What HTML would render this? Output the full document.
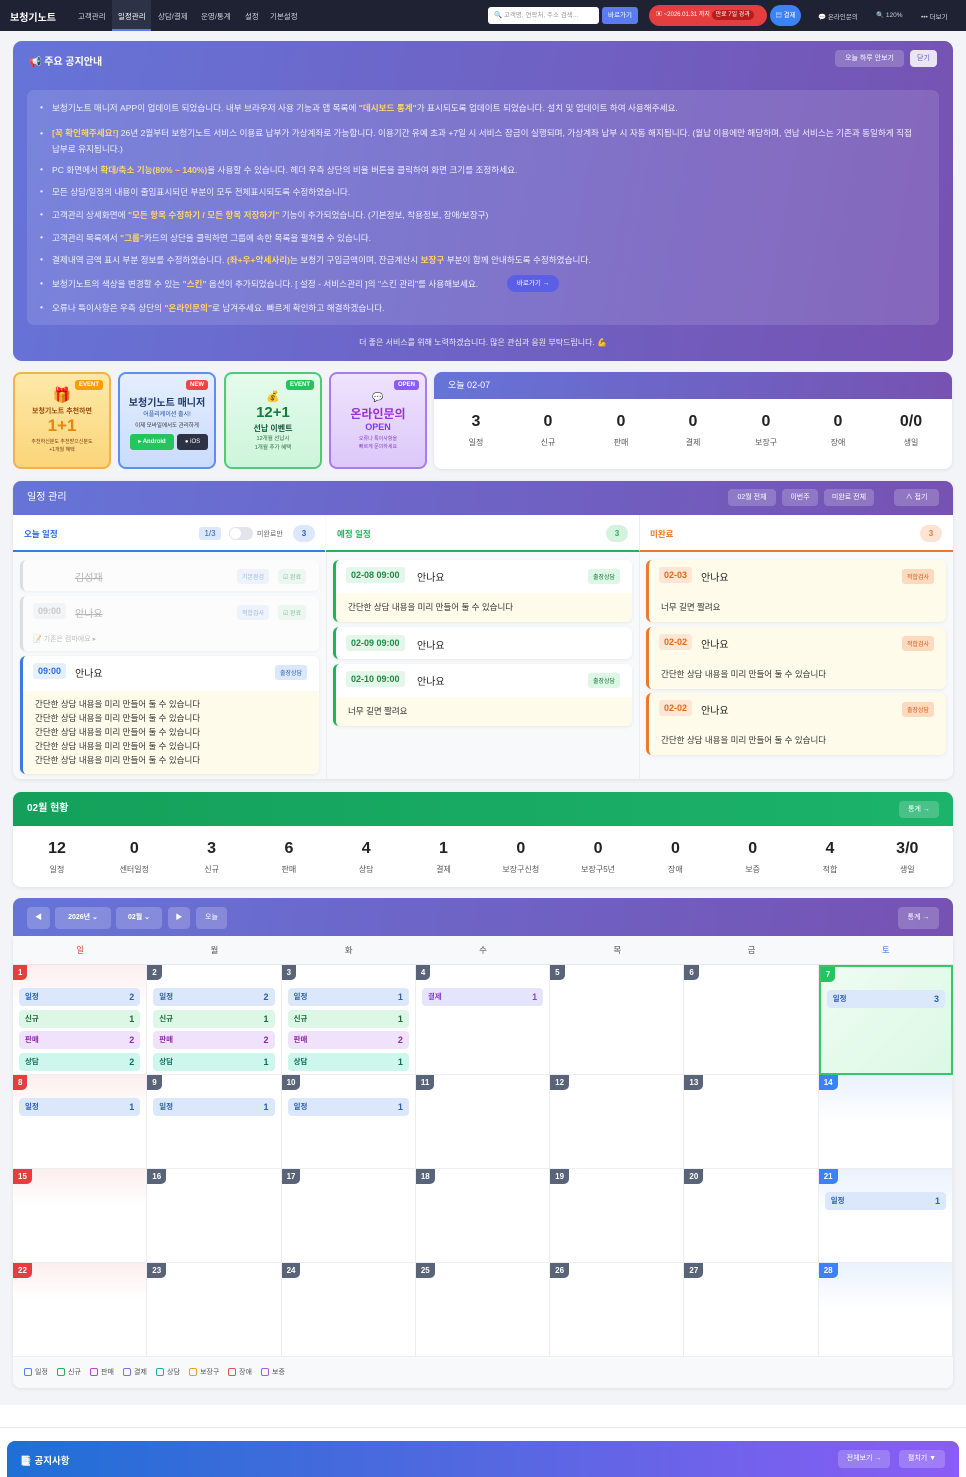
<!DOCTYPE html>
<html><head><meta charset="utf-8"><style>
*{box-sizing:border-box;margin:0;padding:0}
body{width:966px;height:1477px;background:#f3f4f8;font-family:"Liberation Sans","Noto Sans CJK KR",sans-serif;color:#333;position:relative;overflow:hidden;font-size:9px}
.abs{position:absolute}
.nav{left:0;top:0;width:966px;height:31px;background:#1f2233;color:#cfd2dc}
.nav>span{position:absolute;top:11px;font-size:7.5px;white-space:nowrap}
.card{background:#fff;border-radius:8px;box-shadow:0 1px 4px rgba(0,0,0,.08)}
.grad{background:linear-gradient(100deg,#6674d8,#7652b2)}
.btn{position:absolute;background:rgba(255,255,255,.2);color:#fff;border-radius:4px;font-size:7px;text-align:center;line-height:17px;height:17px;white-space:nowrap}
.nl{position:absolute;left:52px;color:#f0f0ff;font-size:8.6px}
.nl b{color:#ffd36a}
.nl:before{content:"•";position:absolute;left:-12px}
.ev{position:absolute;top:372px;width:98px;height:97px;border-radius:8px;border:2px solid;text-align:center}
.tag{position:absolute;right:6px;top:6px;font-size:6px;color:#fff;font-weight:bold;padding:2px 4px;border-radius:3px}
.num{position:absolute;text-align:center;font-weight:bold;font-size:16px;color:#222}
.lab{position:absolute;text-align:center;font-size:8px;color:#555}
.it{position:absolute;background:#fff;border-radius:6px;box-shadow:0 1px 3px rgba(0,0,0,.07);overflow:hidden}
.tm{position:absolute;font-weight:bold;font-size:9px;padding:3px 5px;border-radius:3px}
.ttl{position:absolute;font-size:10px;color:#222}
.bd{position:absolute;font-size:6px;padding:3px 5px;border-radius:3px}
.memo{position:absolute;left:0;right:0;background:#fffbea;font-size:8.5px;color:#333;padding:0 12px;line-height:14px}
.cal{position:absolute;left:13px;top:936px;width:940px;height:452px;background:#fff}
.cell{position:absolute;border-right:1px solid #eceef2;border-bottom:1px solid #eceef2}
.dn{position:absolute;left:0;top:0;font-size:8px;font-weight:bold;color:#fff;background:#5a6478;padding:2px 5px;border-radius:0 0 5px 0;line-height:11px}
.chip{position:absolute;left:6px;right:6px;height:18px;border-radius:4px;font-size:7.5px;font-weight:bold;line-height:18px;padding:0 6px}
.chip i{float:right;font-style:normal;font-size:9px}
.c1{background:#dbe8fb;color:#2b5fb0}.c2{background:#dcf7e5;color:#1d6b3a}.c3{background:#f1e2fc;color:#8a2ba8}.c4{background:#cdf6ec;color:#0f6e5e}.c5{background:#e5e4fd;color:#8a3fd0}
</style></head><body>
<div class="abs nav">
<span style="left:10px;top:9px;font-size:10px;font-weight:bold;color:#fff">보청기노트</span>
<span style="left:78px">고객관리</span>
<div class="abs" style="left:112px;top:0;width:39px;height:31px;background:#2e3246;border-bottom:2px solid #5b7cf0"></div>
<span style="left:118px;color:#fff">일정관리</span>
<span style="left:158px">상담/결제</span><span style="left:201px">운영/통계</span><span style="left:245px">설정</span><span style="left:270px">기본설정</span>
<div class="abs" style="left:488px;top:7px;width:111px;height:17px;background:#fff;border-radius:3px;color:#999;font-size:6.5px;line-height:17px;padding-left:6px;white-space:nowrap;overflow:hidden">🔍 고객명, 연락처, 주소 검색...</div>
<div class="abs" style="left:602px;top:7px;width:36px;height:17px;background:#5b7cf0;border-radius:3px;color:#fff;font-size:6.5px;line-height:17px;text-align:center">바로가기</div>
<div class="abs" style="left:649px;top:5px;width:118px;height:21px;background:#e53e3e;border-radius:11px;color:#fff;font-size:6px;line-height:21px;padding-left:7px;white-space:nowrap;overflow:hidden">▣ ~2026.01.31 까지 <span style="position:static;background:#b91c1c;border-radius:7px;padding:2px 4px">만료 7일 경과</span></div>
<div class="abs" style="left:770px;top:5px;width:31px;height:21px;background:#3b82f6;border-radius:11px;color:#fff;font-size:6.5px;line-height:21px;text-align:center">▤ 결제</div>
<span style="left:818px;font-size:6.5px">💬 온라인문의</span><span style="left:876px;font-size:6.5px">🔍 120%</span><span style="left:921px;font-size:6.5px">••• 더보기</span>
</div>

<div class="abs grad" style="left:13px;top:41px;width:940px;height:320px;border-radius:9px"></div>
<div class="abs" style="left:29px;top:53px;color:#fff;font-size:10px;font-weight:bold">📢 주요 공지안내</div>
<div class="btn" style="left:835px;top:50px;width:69px">오늘 하루 안보기</div>
<div class="btn" style="left:910px;top:50px;width:27px;background:rgba(255,255,255,.85);color:#6a5bc8">닫기</div>
<div class="abs" style="left:27px;top:90px;width:912px;height:235px;background:rgba(255,255,255,.12);border-radius:7px"></div>
<div class="nl" style="top:102px">보청기노트 매니저 APP이 업데이트 되었습니다. 내부 브라우저 사용 기능과 앱 목록에 <b>"데시보드 통계"</b>가 표시되도록 업데이트 되었습니다. 설치 및 업데이트 하여 사용해주세요.</div>
<div class="nl" style="top:125px;width:866px;line-height:16px"><b>[꼭 확인해주세요!]</b> 26년 2월부터 보청기노트 서비스 이용료 납부가 가상계좌로 가능합니다. 이용기간 유예 초과 +7일 시 서비스 잠금이 실행되며, 가상계좌 납부 시 자동 해지됩니다. (월납 이용에만 해당하며, 연납 서비스는 기존과 동일하게 직접납부로 유지됩니다.)</div>
<div class="nl" style="top:164px">PC 화면에서 <b>확대/축소 기능(80% ~ 140%)</b>을 사용할 수 있습니다. 헤더 우측 상단의 비율 버튼을 클릭하여 화면 크기를 조정하세요.</div>
<div class="nl" style="top:186px">모든 상담/일정의 내용이 줄임표시되던 부분이 모두 전체표시되도록 수정하였습니다.</div>
<div class="nl" style="top:209px">고객관리 상세화면에 <b>"모든 항목 수정하기 / 모든 항목 저장하기"</b> 기능이 추가되었습니다. (기본정보, 착용정보, 장애/보장구)</div>
<div class="nl" style="top:232px">고객관리 목록에서 <b>"그룹"</b>카드의 상단을 클릭하면 그룹에 속한 목록을 펼쳐볼 수 있습니다.</div>
<div class="nl" style="top:254px">결제내역 금액 표시 부분 정보를 수정하였습니다. <b>(좌+우+악세사리)</b>는 보청기 구입금액이며, 잔금계산시 <b>보장구</b> 부분이 함께 안내하도록 수정하였습니다.</div>
<div class="nl" style="top:278px">보청기노트의 색상을 변경할 수 있는 <b>"스킨"</b> 옵션이 추가되었습니다. [ 설정 - 서비스관리 ]의 "스킨 관리"를 사용해보세요.</div>
<div class="abs" style="left:507px;top:275px;width:52px;height:17px;border-radius:9px;background:#5b5fe6;color:#fff;font-size:6.5px;line-height:17px;text-align:center">바로가기 →</div>
<div class="nl" style="top:302px">오류나 특이사항은 우측 상단의 <b>"온라인문의"</b>로 남겨주세요. 빠르게 확인하고 해결하겠습니다.</div>
<div class="abs" style="left:0;width:966px;top:337px;text-align:center;color:#eee;font-size:8px">더 좋은 서비스를 위해 노력하겠습니다. 많은 관심과 응원 부탁드립니다. 💪</div>

<div class="ev" style="left:13px;background:linear-gradient(#fde9a8,#fbd57a);border-color:#f2b24a"><div class="tag" style="background:#f59e0b">EVENT</div>
<div class="abs" style="left:0;right:0;top:12px;font-size:15px">🎁</div><div class="abs" style="left:0;right:0;top:32px;font-size:7px;font-weight:bold;color:#9a4a10">보청기노트 추천하면</div><div class="abs" style="left:0;right:0;top:42px;font-size:17px;font-weight:bold;color:#e8850f">1+1</div><div class="abs" style="left:0;right:0;top:64px;font-size:5px;color:#7a3a10;line-height:8px">추천하신분도 추천받으신분도<br>+1개월 혜택</div></div>
<div class="ev" style="left:118px;background:linear-gradient(#e4eefe,#c9dcfb);border-color:#5b8ff0"><div class="tag" style="background:#ef4444">NEW</div>
<div class="abs" style="left:0;right:0;top:20px;font-size:10px;font-weight:bold;color:#1e3a6e">보청기노트 매니저</div><div class="abs" style="left:0;right:0;top:35px;font-size:6px;color:#1e4fa0">어플리케이션 출시!</div><div class="abs" style="left:0;right:0;top:47px;font-size:5.5px;color:#333">이제 모바일에서도 관리하게</div>
<div class="abs" style="left:10px;top:60px;width:44px;height:16px;background:#22c55e;border-radius:3px;color:#fff;font-size:6px;line-height:16px;font-weight:bold">▸ Android</div><div class="abs" style="left:57px;top:60px;width:31px;height:16px;background:#2d3345;border-radius:3px;color:#fff;font-size:6px;line-height:16px">● iOS</div></div>
<div class="ev" style="left:224px;background:linear-gradient(#e4fbec,#cdf5da);border-color:#4ccb78"><div class="tag" style="background:#22c55e">EVENT</div>
<div class="abs" style="left:0;right:0;top:16px;font-size:11px">💰</div><div class="abs" style="left:0;right:0;top:30px;font-size:15px;font-weight:bold;color:#1a7a3e">12+1</div><div class="abs" style="left:0;right:0;top:49px;font-size:8px;font-weight:bold;color:#1a5a3e">선납 이벤트</div><div class="abs" style="left:0;right:0;top:61px;font-size:5.5px;color:#2a6a3e;line-height:9px">12개월 선납시<br>1개월 추가 혜택</div></div>
<div class="ev" style="left:329px;background:linear-gradient(#efe3fd,#dcc8fa);border-color:#a77cf0"><div class="tag" style="background:#8b5cf6">OPEN</div>
<div class="abs" style="left:0;right:0;top:18px;font-size:9px">💬</div><div class="abs" style="left:0;right:0;top:31px;font-size:12px;font-weight:bold;color:#9b30d0">온라인문의</div><div class="abs" style="left:0;right:0;top:48px;font-size:9px;font-weight:bold;color:#7c3aed">OPEN</div><div class="abs" style="left:0;right:0;top:61px;font-size:5px;color:#8a40c0;line-height:8px">오류나 특이사항을<br>빠르게 문의하세요</div></div>
<div class="abs card" style="left:434px;top:372px;width:518px;height:97px;overflow:hidden"><div class="grad" style="height:27px;color:#fff;font-size:9px;line-height:27px;padding-left:14px">오늘 02-07</div></div>
<div class="num" style="left:441px;width:70px;top:413px">3</div><div class="lab" style="left:441px;width:70px;top:437px">일정</div>
<div class="num" style="left:513px;width:70px;top:413px">0</div><div class="lab" style="left:513px;width:70px;top:437px">신규</div>
<div class="num" style="left:586px;width:70px;top:413px">0</div><div class="lab" style="left:586px;width:70px;top:437px">판매</div>
<div class="num" style="left:658px;width:70px;top:413px">0</div><div class="lab" style="left:658px;width:70px;top:437px">결제</div>
<div class="num" style="left:731px;width:70px;top:413px">0</div><div class="lab" style="left:731px;width:70px;top:437px">보장구</div>
<div class="num" style="left:803px;width:70px;top:413px">0</div><div class="lab" style="left:803px;width:70px;top:437px">장애</div>
<div class="num" style="left:876px;width:70px;top:413px">0/0</div><div class="lab" style="left:876px;width:70px;top:437px">생일</div>

<div class="abs card" style="left:13px;top:481px;width:940px;height:298px;background:#f8f9fb;overflow:hidden">
<div class="grad" style="height:34px;color:#fff;font-size:10px;line-height:34px;padding-left:14px">일정 관리</div>
<div class="abs" style="left:0;top:34px;width:312px;height:37px;background:#fff;border-bottom:2px solid #3b7be0"></div>
<div class="abs" style="left:313px;top:34px;width:313px;height:37px;background:#fff;border-bottom:2px solid #22b35a"></div>
<div class="abs" style="left:626px;top:34px;width:314px;height:37px;background:#fff;border-bottom:2px solid #ea7a2c;border-left:1px solid #eee"></div>
<div class="abs" style="left:313px;top:71px;width:1px;height:230px;background:#eee"></div>
<div class="abs" style="left:626px;top:71px;width:1px;height:230px;background:#eee"></div>
</div>
<div class="btn" style="left:728px;top:489px;width:48px">02월 전체</div><div class="btn" style="left:782px;top:489px;width:36px">이번주</div><div class="btn" style="left:824px;top:489px;width:50px">미완료 전체</div><div class="btn" style="left:894px;top:489px;width:45px">∧ 접기</div>
<div class="abs" style="left:24px;top:528px;font-size:8.5px;color:#2b6cd9;font-weight:bold">오늘 일정</div>
<div class="abs" style="left:199px;top:527px;width:22px;height:13px;background:#dbe8fb;border-radius:3px;color:#2b5fb0;font-size:8px;text-align:center;line-height:13px">1/3</div>
<div class="abs" style="left:229px;top:527px;width:24px;height:13px;background:#e2e5ea;border-radius:7px"><div style="width:11px;height:11px;background:#fff;border-radius:50%;margin:1px"></div></div>
<div class="abs" style="left:257px;top:529px;font-size:7px;color:#666">미완료만</div>
<div class="abs" style="left:293px;top:525px;width:22px;height:17px;background:#dbe8fb;border-radius:9px;color:#2b5fb0;font-size:8px;text-align:center;line-height:17px;font-weight:bold">3</div>
<div class="abs" style="left:337px;top:528px;font-size:8.5px;color:#22b35a;font-weight:bold">예정 일정</div>
<div class="abs" style="left:606px;top:525px;width:22px;height:17px;background:#d4f3df;border-radius:9px;color:#22b35a;font-size:8px;text-align:center;line-height:17px;font-weight:bold">3</div>
<div class="abs" style="left:650px;top:528px;font-size:8.5px;color:#ea7a2c;font-weight:bold">미완료</div>
<div class="abs" style="left:920px;top:525px;width:22px;height:17px;background:#fde3d3;border-radius:9px;color:#ea7a2c;font-size:8px;text-align:center;line-height:17px;font-weight:bold">3</div>

<div class="it" style="left:20px;top:560px;width:299px;height:31px;border-left:3px solid #ccc;opacity:.6">
<div class="ttl" style="left:52px;top:9px;color:#888;text-decoration:line-through">김성재</div>
<div class="bd" style="left:214px;top:9px;background:#e8f0fc;color:#6a8bd0">기본점검</div><div class="bd" style="left:255px;top:9px;background:#e3f6e9;color:#3a9a5a">☑ 완료</div></div>
<div class="it" style="left:20px;top:596px;width:299px;height:55px;border-left:3px solid #ccc;opacity:.6">
<div class="tm" style="left:10px;top:7px;background:#f0f1f3;color:#aaa">09:00</div><div class="ttl" style="left:52px;top:9px;color:#888;text-decoration:line-through">안나요</div>
<div class="bd" style="left:214px;top:9px;background:#e8f0fc;color:#6a8bd0">적합검사</div><div class="bd" style="left:255px;top:9px;background:#e3f6e9;color:#3a9a5a">☑ 완료</div>
<div class="abs" style="left:10px;top:38px;font-size:7px;color:#999">📝 기존은 컴마에요 ▸</div></div>
<div class="it" style="left:20px;top:656px;width:299px;height:118px;border-left:3px solid #3b7be0">
<div class="tm" style="left:10px;top:7px;background:#e6f0fd;color:#2b6cd9">09:00</div><div class="ttl" style="left:52px;top:9px">안나요</div>
<div class="bd" style="left:252px;top:9px;background:#dbe8fb;color:#2b5fb0">출장상담</div>
<div class="memo" style="top:35px;bottom:0;padding-top:6px">간단한 상담 내용을 미리 만들어 둘 수 있습니다<br>간단한 상담 내용을 미리 만들어 둘 수 있습니다<br>간단한 상담 내용을 미리 만들어 둘 수 있습니다<br>간단한 상담 내용을 미리 만들어 둘 수 있습니다<br>간단한 상담 내용을 미리 만들어 둘 수 있습니다</div></div>
<div class="it" style="left:333px;top:560px;width:299px;height:62px;border-left:3px solid #22b35a">
<div class="tm" style="left:10px;top:7px;background:#e3f6e9;color:#1d8a45">02-08 09:00</div><div class="ttl" style="left:81px;top:9px">안나요</div>
<div class="bd" style="left:252px;top:9px;background:#dcf7e5;color:#1d6b3a">출장상담</div>
<div class="memo" style="top:33px;bottom:0;line-height:29px">간단한 상담 내용을 미리 만들어 둘 수 있습니다</div></div>
<div class="it" style="left:333px;top:627px;width:299px;height:32px;border-left:3px solid #22b35a">
<div class="tm" style="left:10px;top:8px;background:#e3f6e9;color:#1d8a45">02-09 09:00</div><div class="ttl" style="left:81px;top:10px">안나요</div></div>
<div class="it" style="left:333px;top:664px;width:299px;height:62px;border-left:3px solid #22b35a">
<div class="tm" style="left:10px;top:7px;background:#e3f6e9;color:#1d8a45">02-10 09:00</div><div class="ttl" style="left:81px;top:9px">안나요</div>
<div class="bd" style="left:252px;top:9px;background:#dcf7e5;color:#1d6b3a">출장상담</div>
<div class="memo" style="top:33px;bottom:0;line-height:29px">너무 길면 짤려요</div></div>
<div class="it" style="left:646px;top:560px;width:300px;height:62px;border-left:3px solid #ea7a2c;background:#fffbea">
<div class="tm" style="left:10px;top:7px;background:#fde6d3;color:#e06a1c">02-03</div><div class="ttl" style="left:52px;top:9px">안나요</div>
<div class="bd" style="left:253px;top:9px;background:#fdd9bd;color:#d0601a">적합검사</div>
<div class="memo" style="top:33px;bottom:0;line-height:29px">너무 길면 짤려요</div></div>
<div class="it" style="left:646px;top:627px;width:300px;height:62px;border-left:3px solid #ea7a2c;background:#fffbea">
<div class="tm" style="left:10px;top:7px;background:#fde6d3;color:#e06a1c">02-02</div><div class="ttl" style="left:52px;top:9px">안나요</div>
<div class="bd" style="left:253px;top:9px;background:#fdd9bd;color:#d0601a">적합검사</div>
<div class="memo" style="top:33px;bottom:0;line-height:29px">간단한 상담 내용을 미리 만들어 둘 수 있습니다</div></div>
<div class="it" style="left:646px;top:693px;width:300px;height:62px;border-left:3px solid #ea7a2c;background:#fffbea">
<div class="tm" style="left:10px;top:7px;background:#fde6d3;color:#e06a1c">02-02</div><div class="ttl" style="left:52px;top:9px">안나요</div>
<div class="bd" style="left:253px;top:9px;background:#fdd9bd;color:#d0601a">출장상담</div>
<div class="memo" style="top:33px;bottom:0;line-height:29px">간단한 상담 내용을 미리 만들어 둘 수 있습니다</div></div>

<div class="abs card" style="left:13px;top:792px;width:940px;height:95px;overflow:hidden"><div style="height:34px;background:linear-gradient(90deg,#14a05a,#1cb36a);color:#fff;font-size:10px;font-weight:bold;line-height:34px;padding-left:14px">02월 현황</div></div>
<div class="btn" style="left:899px;top:801px;width:40px">통계 →</div>
<div id="st"></div>

<div class="cal" id="cal" style="box-shadow:0 1px 4px rgba(0,0,0,.08);border-radius:0 0 8px 8px"></div>
<div class="abs" style="left:13px;top:898px;width:940px;height:38px;border-radius:8px 8px 0 0;background:linear-gradient(100deg,#6674d8,#7652b2)"></div>
<div class="btn" style="left:27px;top:907px;width:23px;height:22px;line-height:22px">◀</div>
<div class="btn" style="left:55px;top:907px;width:56px;height:22px;line-height:22px;font-weight:bold">2026년 ⌄</div>
<div class="btn" style="left:116px;top:907px;width:46px;height:22px;line-height:22px;font-weight:bold">02월 ⌄</div>
<div class="btn" style="left:168px;top:907px;width:22px;height:22px;line-height:22px">▶</div>
<div class="btn" style="left:196px;top:907px;width:31px;height:22px;line-height:22px">오늘</div>
<div class="btn" style="left:898px;top:907px;width:41px;height:22px;line-height:22px">통계 →</div>
<div class="abs" style="left:0;top:1405px;width:966px;height:72px;background:#fff"></div>
<div class="abs" style="left:0;top:1427px;width:966px;height:1px;background:#e5e7eb"></div>
<div class="abs" style="left:7px;top:1441px;width:952px;height:36px;border-radius:8px 8px 0 0;background:linear-gradient(90deg,#1f6fd6,#5468e0 50%,#8b5cf6)"></div>
<div class="abs" style="left:20px;top:1453px;color:#fff;font-size:9.5px;font-weight:bold">📑 공지사항</div>
<div class="btn" style="left:838px;top:1450px;width:52px;height:18px;line-height:18px">전체보기 →</div>
<div class="btn" style="left:899px;top:1450px;width:46px;height:18px;line-height:18px">펼치기 ▼</div>
<script>
var s=[["12","일정"],["0","센터일정"],["3","신규"],["6","판매"],["4","상담"],["1","결제"],["0","보장구신청"],["0","보장구5년"],["0","장애"],["0","보증"],["4","적합"],["3/0","생일"]],h="";
s.forEach(function(a,i){var x=20+i*77.3;h+='<div class="num" style="left:'+x+'px;width:74px;top:840px">'+a[0]+'</div><div class="lab" style="left:'+x+'px;width:74px;top:864px">'+a[1]+'</div>';});
document.getElementById('st').outerHTML=h;
var c="",W=940/7,days=["일","월","화","수","목","금","토"];
days.forEach(function(d,i){c+='<div class="abs" style="left:'+(i*W)+'px;top:0;width:'+W+'px;height:29px;background:#f8f9fb;border-bottom:1px solid #e5e7eb;text-align:center;line-height:29px;font-size:8.5px;color:'+(i==0?'#e53e3e':i==6?'#3b82f6':'#555')+'">'+d+'</div>';});
var rows=[[29,110],[139,94],[233,94],[327,94]];
var data={1:[["c1","일정",2],["c2","신규",1],["c3","판매",2],["c4","상담",2]],2:[["c1","일정",2],["c2","신규",1],["c3","판매",2],["c4","상담",1]],3:[["c1","일정",1],["c2","신규",1],["c3","판매",2],["c4","상담",1]],4:[["c5","결제",1]],7:[["c1","일정",3]],8:[["c1","일정",1]],9:[["c1","일정",1]],10:[["c1","일정",1]],21:[["c1","일정",1]]};
for(var r=0;r<4;r++)for(var k=0;k<7;k++){var d=r*7+k+1,bg="#fff",nb="#5a6478",ex="";
if(k==0){bg="linear-gradient(#fdeeee,#fff 40%)";nb="#e53e3e";}
if(k==6){bg="linear-gradient(#eaf2fd,#fff 50%)";nb="#3b82f6";}
if(d==7){bg="linear-gradient(135deg,#eefcf2,#dcf8e5)";nb="#22c55e";ex="border:2px solid #3cc46a;";}
c+='<div class="cell" style="left:'+(k*W)+'px;top:'+rows[r][0]+'px;width:'+W+'px;height:'+rows[r][1]+'px;background:'+bg+';'+ex+'"><div class="dn" style="background:'+nb+'">'+d+'</div>';
(data[d]||[]).forEach(function(e,j){c+='<div class="chip '+e[0]+'" style="top:'+(23+j*21.5)+'px">'+e[1]+'<i>'+e[2]+'</i></div>';});
c+='</div>';}
var lg=[["일정","#5b7cf0"],["신규","#22b35a"],["판매","#c040d0"],["결제","#7a70e0"],["상담","#20b0a0"],["보장구","#f0a020"],["장애","#e05050"],["보증","#a060e0"]],lx=11;
c+='<div class="abs" style="left:0;top:421px;width:940px;height:31px;background:#f8f9fb;border-radius:0 0 8px 8px"></div>';
lg.forEach(function(l){c+='<div class="abs" style="left:'+lx+'px;top:432px;width:8px;height:8px;border:1px solid '+l[1]+';border-radius:2px"></div><div class="abs" style="left:'+(lx+11)+'px;top:431px;font-size:7px;color:#555">'+l[0]+'</div>';lx+=l[0].length>2?39:33;});
document.getElementById('cal').innerHTML=c;
</script>
</body></html>
